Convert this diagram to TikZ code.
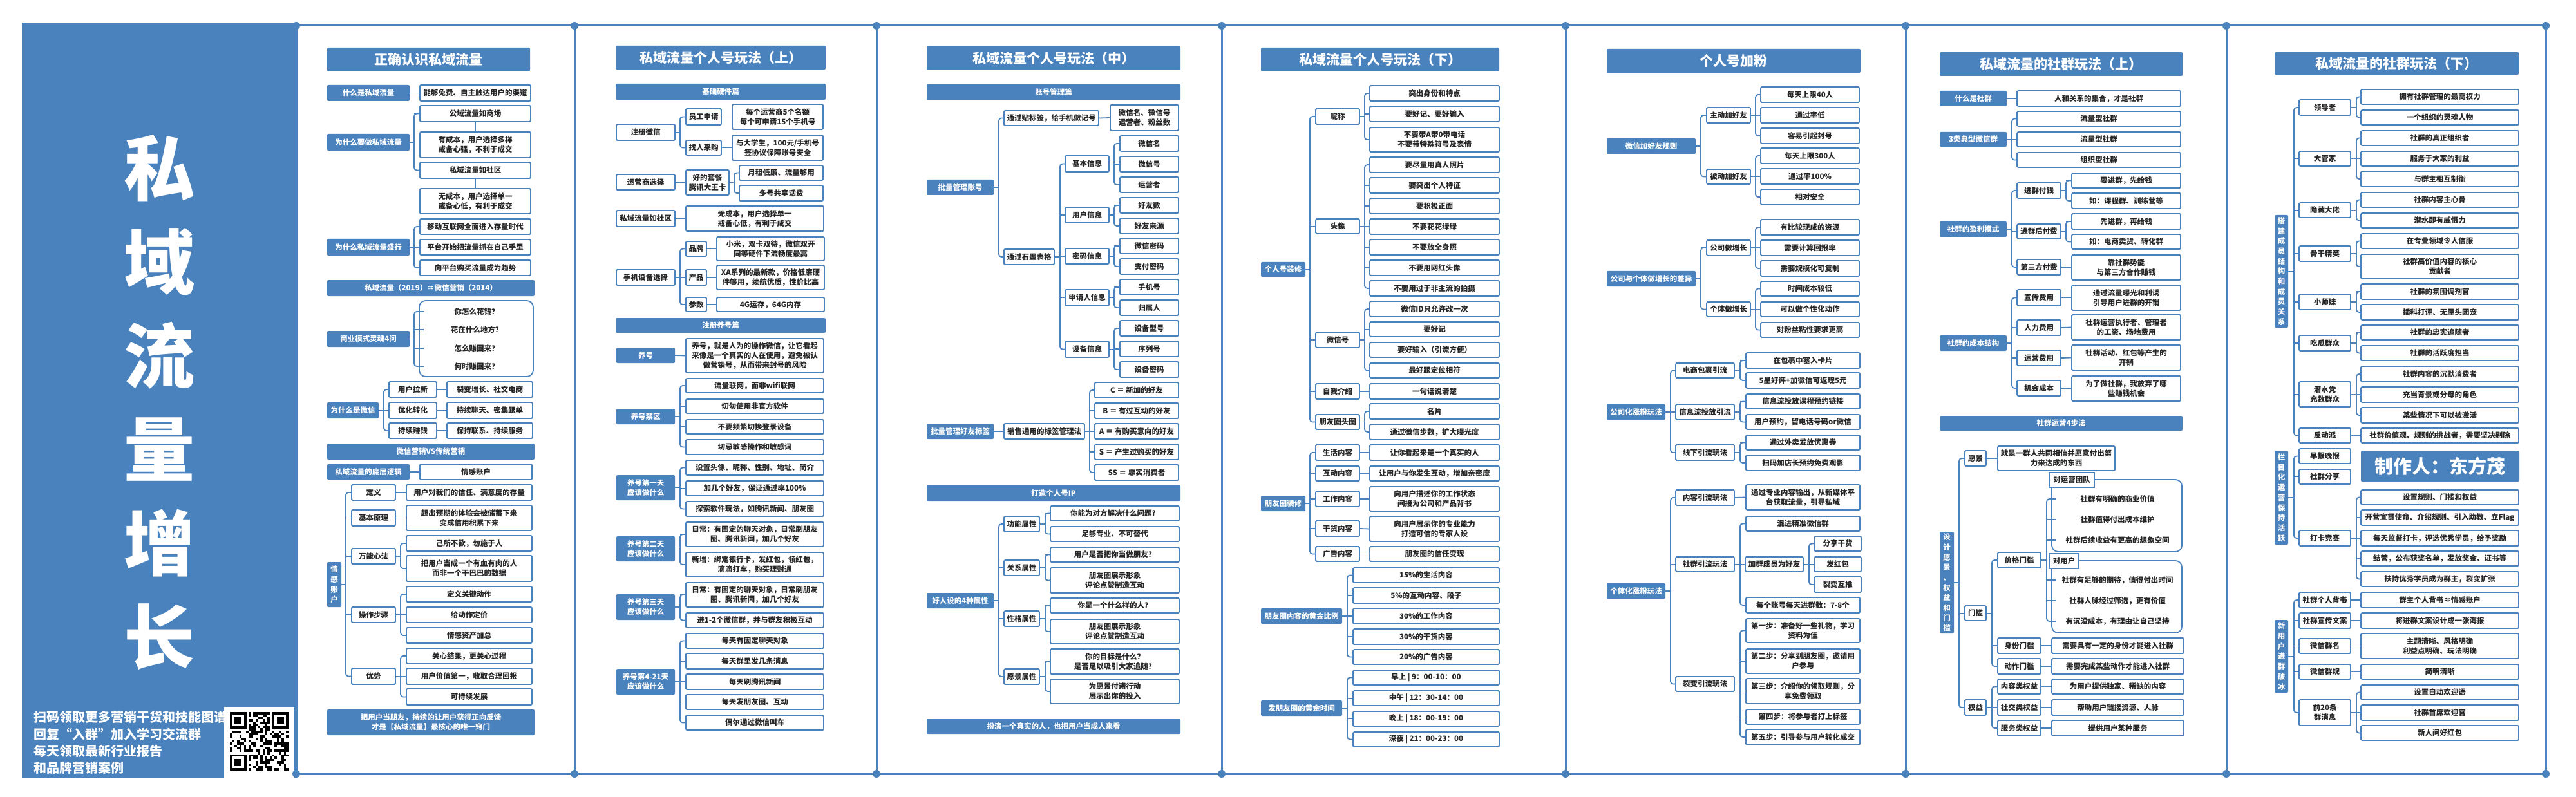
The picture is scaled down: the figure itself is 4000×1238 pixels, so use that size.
\documentclass[tikz,border=0pt]{standalone}
\usepackage{fontspec}
\setmainfont{Noto Sans CJK SC}
\usetikzlibrary{calc}
\definecolor{bl}{HTML}{4A82BD}
\definecolor{tx}{HTML}{262626}
\newcommand\bt{\fontsize{11.5}{15}\selectfont\bfseries}
\tikzset{
 bx/.style={draw=bl,line width=1.8pt,fill=white,text=tx,font=\bt,align=center,inner sep=0pt,rounded corners=1.5pt},
 fb/.style={fill=bl,text=white,font=\bt,align=center,inner sep=0pt,rounded corners=2pt},
 vb/.style={fill=bl,text=white,font=\fontsize{11.5}{15.7}\selectfont\bfseries,align=center,inner sep=0pt,rounded corners=2pt},
 sb/.style={fb},
 tt/.style={fill=bl,text=white,font=\fontsize{21}{25}\selectfont\bfseries,inner sep=0pt,rounded corners=2pt},
 tn/.style={text=tx,font=\bt,inner sep=0pt,align=center},
 conn/.style={draw=bl,line width=1.8pt,rounded corners=4pt},
 frame/.style={draw=bl,line width=3pt},
}
\newcommand\B[7]{\node[#1,minimum width={#4-#3},minimum height={#6-#5}] (#2) at ({(#3+#4)/2},{(#5+#6)/2}) {#7};}
\newcommand\LN[2]{\draw[conn] (#1.east) -- (#2.west);}
\newcommand\BR[5]{\coordinate (bk) at (#2,0);
 \draw[conn] (#1.east) -- (bk |- #1.east);
 \draw[conn] (#3.west) -| (bk |- #4.west) -- (#4.west);
 \foreach \cc in {#5}{\draw[conn] (bk |- \cc.west) -- (\cc.west);}}
\begin{document}
\begin{tikzpicture}[x=1pt,y=-1pt]
\useasboundingbox (0,0) rectangle (4000,1238);
\fill[white] (0,0) rectangle (4000,1238);
% ---------- left panel ----------
\fill[bl] (34,35) rectangle (460,1208);
\foreach \ch [count=\i from 0] in {私,域,流,量,增,长}
  \node[font=\fontsize{110}{110}\selectfont\bfseries,text=white,inner sep=0pt] (big\i) at (247,{261+145.6*\i}) {\ch};
\node[anchor=west,font=\fontsize{20}{24}\selectfont\bfseries,text=white,inner sep=0pt] (ad1) at (52,1114) {扫码领取更多营销干货和技能图谱};
\node[anchor=west,font=\fontsize{20}{24}\selectfont\bfseries,text=white,inner sep=0pt] (ad2) at (52,1141) {回复“入群”加入学习交流群};
\node[anchor=west,font=\fontsize{20}{24}\selectfont\bfseries,text=white,inner sep=0pt] (ad3) at (52,1167) {每天领取最新行业报告};
\node[anchor=west,font=\fontsize{20}{24}\selectfont\bfseries,text=white,inner sep=0pt] (ad4) at (52,1193) {和品牌营销案例};
% QR
\fill[white] (348,1098) rectangle (457,1208);
\pgfmathsetseed{11}
\foreach \i in {0,...,24}{\foreach \j in {0,...,24}{%
  \pgfmathtruncatemacro\rr{rnd>0.5?1:0}%
  \pgfmathtruncatemacro\sk{((\i<8)&&(\j<8))||((\i>16)&&(\j<8))||((\i<8)&&(\j>16))?1:0}%
  \ifnum\rr=1 \ifnum\sk=0 \fill[black] ({357+\i*3.64},{1106+\j*3.64}) rectangle ++(3.64,3.64);\fi\fi}}
\foreach \ox/\oy in {357/1106,422.5/1106,357/1171.5}{
  \fill[black] (\ox,\oy) rectangle ++(25.5,25.5);
  \fill[white] ({\ox+3.64},{\oy+3.64}) rectangle ++(18.2,18.2);
  \fill[black] ({\ox+7.28},{\oy+7.28}) rectangle ++(10.9,10.9);}
% ---------- frame ----------
\draw[frame] (460,40) -- (3953,40);
\draw[frame] (460,1202) -- (3953,1202);
\foreach \x in {460,892,1361,1897,2431,2959,3457,3953}{
  \draw[frame] (\x,40) -- (\x,1202);
  \fill[bl] (\x,40) circle (6pt);
  \fill[bl] (\x,1202) circle (6pt);}
% ================= column 1 =================
\B{tt}{t1}{508}{823}{74}{111}{正确认识私域流量}
\B{fb}{a1}{508}{636}{132}{157}{什么是私域流量}
\B{bx}{a1r}{652}{824}{132}{157}{能够免费、自主触达用户的渠道}
\LN{a1}{a1r}
\B{fb}{a2}{508}{636}{208}{234}{为什么要做私域流量}
\B{bx}{a2r1}{652}{824}{164}{189}{公域流量如商场}
\B{bx}{a2r2}{652}{824}{205}{245}{有成本，用户选择多样\\戒备心强，不利于成交}
\B{bx}{a2r3}{652}{824}{252}{277}{私域流量如社区}
\B{bx}{a2r4}{652}{824}{293}{332}{无成本，用户选择单一\\戒备心低，有利于成交}
\BR{a2}{643}{a2r1}{a2r3}{a2r1}
\draw[conn] (a2r1.south) -- (a2r2.north);
\draw[conn] (a2r3.south) -- (a2r4.north);
\B{fb}{a3}{508}{636}{371}{397}{为什么私域流量盛行}
\B{bx}{a3r1}{652}{824}{340}{364}{移动互联网全面进入存量时代}
\B{bx}{a3r2}{652}{824}{372}{396}{平台开始把流量抓在自己手里}
\B{bx}{a3r3}{652}{824}{404}{428}{向平台购买流量成为趋势}
\BR{a3}{643}{a3r1}{a3r3}{a3r2}
\B{sb}{a4}{508}{830}{435}{460}{私域流量（2019）≈微信营销（2014）}
\B{fb}{a5}{508}{636}{514}{539}{商业模式灵魂4问}
\B{bx,rounded corners=10pt}{a5box}{651}{828}{467}{585}{}
\B{tn}{a5q1}{658}{822}{474}{494}{你怎么花钱？}
\B{tn}{a5q2}{658}{822}{502}{522}{花在什么地方？}
\B{tn}{a5q3}{658}{822}{531}{551}{怎么赚回来？}
\B{tn}{a5q4}{658}{822}{559}{579}{何时赚回来？}
\BR{a5}{643}{a5q1}{a5q4}{a5q2,a5q3}
\B{fb}{a6}{508}{588}{625}{650}{为什么是微信}
\B{bx}{a6m1}{604}{678}{593}{617}{用户拉新}
\B{bx}{a6m2}{604}{678}{625}{650}{优化转化}
\B{bx}{a6m3}{604}{678}{657}{681}{持续赚钱}
\B{bx}{a6r1}{694}{827}{593}{617}{裂变增长、社交电商}
\B{bx}{a6r2}{694}{827}{625}{650}{持续聊天、密集跟单}
\B{bx}{a6r3}{694}{827}{657}{681}{保持联系、持续服务}
\BR{a6}{596}{a6m1}{a6m3}{a6m2}
\LN{a6m1}{a6r1}\LN{a6m2}{a6r2}\LN{a6m3}{a6r3}
\B{sb}{a7}{508}{830}{689}{714}{微信营销VS传统营销}
\B{fb}{a8}{508}{636}{721}{745}{私域流量的底层逻辑}
\B{bx}{a8r}{652}{826}{721}{745}{情感账户}
\LN{a8}{a8r}
\B{vb}{a9}{508}{530}{873}{943}{情\\感\\账\\户}
\B{bx}{a9m1}{546}{614}{753}{777}{定义}
\B{bx}{a9m2}{546}{614}{792}{817}{基本原理}
\B{bx}{a9m3}{546}{614}{852}{876}{万能心法}
\B{bx}{a9m4}{546}{614}{943}{967}{操作步骤}
\B{bx}{a9m5}{546}{614}{1038}{1063}{优势}
\B{bx}{a9r1}{631}{826}{753}{777}{用户对我们的信任、满意度的存量}
\B{bx}{a9r2}{631}{826}{785}{824}{超出预期的体验会被储蓄下来\\变成信用积累下来}
\B{bx}{a9r3}{631}{826}{832}{856}{己所不欲，勿施于人}
\B{bx}{a9r4}{631}{826}{863}{903}{把用户当成一个有血有肉的人\\而非一个干巴巴的数据}
\B{bx}{a9r5}{631}{826}{911}{935}{定义关键动作}
\B{bx}{a9r6}{631}{826}{943}{967}{给动作定价}
\B{bx}{a9r7}{631}{826}{975}{999}{情感资产加总}
\B{bx}{a9r8}{631}{826}{1007}{1031}{关心结果，更关心过程}
\B{bx}{a9r9}{631}{826}{1038}{1063}{用户价值第一，收取合理回报}
\B{bx}{a9r10}{631}{826}{1070}{1095}{可持续发展}
\BR{a9}{537}{a9m1}{a9m5}{a9m2,a9m3,a9m4}
\LN{a9m1}{a9r1}\LN{a9m2}{a9r2}
\BR{a9m3}{622}{a9r3}{a9r4}{a9r3}
\BR{a9m4}{622}{a9r5}{a9r7}{a9r6}
\BR{a9m5}{622}{a9r8}{a9r10}{a9r9}
\B{sb}{a10}{508}{830}{1102}{1142}{把用户当朋友，持续的让用户获得正向反馈\\才是【私域流量】最核心的唯一窍门}
% ================= column 2 =================
\B{tt}{t2}{956}{1282}{71}{108}{私域流量个人号玩法（上）}
\B{sb}{b0}{956}{1282}{130}{155}{基础硬件篇}
\B{bx}{b1}{957}{1048}{193}{218}{注册微信}
\B{bx}{b1m1}{1065}{1120}{169}{194}{员工申请}
\B{bx}{b1m2}{1065}{1120}{218}{241}{找人采购}
\B{bx}{b1r1}{1137}{1278}{162}{201}{每个运营商5个名额\\每个可申请15个手机号}
\B{bx}{b1r2}{1137}{1278}{210}{249}{与大学生，100元/手机号\\签协议保障账号安全}
\BR{b1}{1056}{b1m1}{b1m2}{b1m1}
\LN{b1m1}{b1r1}\LN{b1m2}{b1r2}
\B{bx}{b2}{957}{1048}{271}{295}{运营商选择}
\B{bx}{b2m}{1065}{1132}{264}{303}{好的套餐\\腾讯大王卡}
\B{bx}{b2r1}{1148}{1278}{257}{280}{月租低廉、流量够用}
\B{bx}{b2r2}{1148}{1278}{288}{312}{多号共享话费}
\LN{b2}{b2m}
\BR{b2m}{1140}{b2r1}{b2r2}{b2r1}
\B{bx}{b3}{957}{1048}{327}{352}{私域流量如社区}
\B{bx}{b3r}{1065}{1279}{320}{359}{无成本，用户选择单一\\戒备心低，有利于成交}
\LN{b3}{b3r}
\B{bx}{b4}{957}{1048}{419}{443}{手机设备选择}
\B{bx}{b4m1}{1065}{1097}{375}{398}{品牌}
\B{bx}{b4m2}{1065}{1097}{419}{443}{产品}
\B{bx}{b4m3}{1065}{1097}{462}{484}{参数}
\B{bx}{b4r1}{1113}{1280}{368}{405}{小米，双卡双待，微信双开\\同等硬件下流畅度最高}
\B{bx}{b4r2}{1113}{1280}{412}{450}{XA系列的最新款，价格低廉硬\\件够用，续航优质，性价比高}
\B{bx}{b4r3}{1113}{1280}{462}{484}{4G运存，64G内存}
\BR{b4}{1056}{b4m1}{b4m3}{b4m2}
\LN{b4m1}{b4r1}\LN{b4m2}{b4r2}\LN{b4m3}{b4r3}
\B{sb}{b5}{956}{1282}{494}{517}{注册养号篇}
\B{fb}{b6}{957}{1048}{540}{564}{养号}
\B{bx}{b6r}{1065}{1279}{526}{579}{养号，就是人为的操作微信，让它看起\\来像是一个真实的人在使用，避免被认\\做营销号，从而带来封号的风险}
\LN{b6}{b6r}
\B{fb}{b7}{957}{1048}{635}{659}{养号禁区}
\B{bx}{b7r1}{1065}{1279}{588}{610}{流量联网，而非wifi联网}
\B{bx}{b7r2}{1065}{1279}{620}{642}{切勿使用非官方软件}
\B{bx}{b7r3}{1065}{1279}{652}{674}{不要频繁切换登录设备}
\B{bx}{b7r4}{1065}{1279}{683}{706}{切忌敏感操作和敏感词}
\BR{b7}{1056}{b7r1}{b7r4}{b7r2,b7r3}
\B{fb}{b8}{957}{1048}{738}{777}{养号第一天\\应该做什么}
\B{bx}{b8r1}{1065}{1279}{715}{738}{设置头像、昵称、性别、地址、简介}
\B{bx}{b8r2}{1065}{1279}{747}{770}{加几个好友，保证通过率100\%}
\B{bx}{b8r3}{1065}{1279}{779}{802}{探索软件玩法，如腾讯新闻、朋友圈}
\BR{b8}{1056}{b8r1}{b8r3}{b8r2}
\B{fb}{b9}{957}{1048}{833}{872}{养号第二天\\应该做什么}
\B{bx}{b9r1}{1065}{1279}{811}{849}{日常：有固定的聊天对象，日常刷朋友\\圈、腾讯新闻，加几个好友}
\B{bx}{b9r2}{1065}{1279}{858}{896}{新增：绑定银行卡，发红包，领红包，\\滴滴打车，购买理财通}
\BR{b9}{1056}{b9r1}{b9r2}{b9r1}
\B{fb}{b10}{957}{1048}{923}{963}{养号第三天\\应该做什么}
\B{bx}{b10r1}{1065}{1279}{905}{943}{日常：有固定的聊天对象，日常刷朋友\\圈、腾讯新闻，加几个好友}
\B{bx}{b10r2}{1065}{1279}{952}{975}{进1-2个微信群，并与群友积极互动}
\BR{b10}{1056}{b10r1}{b10r2}{b10r1}
\B{fb}{b11}{957}{1048}{1039}{1079}{养号第4-21天\\应该做什么}
\B{bx}{b11r1}{1065}{1279}{984}{1007}{每天有固定聊天对象}
\B{bx}{b11r2}{1065}{1279}{1015}{1039}{每天群里发几条消息}
\B{bx}{b11r3}{1065}{1279}{1047}{1071}{每天刷腾讯新闻}
\B{bx}{b11r4}{1065}{1279}{1079}{1102}{每天发朋友圈、互动}
\B{bx}{b11r5}{1065}{1279}{1111}{1134}{偶尔通过微信叫车}
\BR{b11}{1056}{b11r1}{b11r5}{b11r2,b11r3,b11r4}
% ================= column 3 =================
\B{tt}{t3}{1439}{1833}{72}{109}{私域流量个人号玩法（中）}
\B{sb}{c0}{1439}{1833}{131}{156}{账号管理篇}
\B{fb}{c1}{1439}{1543}{279}{303}{批量管理账号}
\B{bx}{c1a}{1559}{1706}{172}{195}{通过贴标签，给手机做记号}
\B{bx}{c1b}{1559}{1637}{387}{411}{通过石墨表格}
\BR{c1}{1551}{c1a}{c1b}{c1a}
\B{bx}{c1ar}{1724}{1830}{163}{203}{微信名、微信号\\运营者、粉丝数}
\LN{c1a}{c1ar}
\B{bx}{c1b1}{1654}{1722}{242}{267}{基本信息}
\B{bx}{c1b2}{1654}{1722}{322}{346}{用户信息}
\B{bx}{c1b3}{1654}{1722}{386}{410}{密码信息}
\B{bx}{c1b4}{1654}{1722}{450}{475}{申请人信息}
\B{bx}{c1b5}{1654}{1722}{530}{555}{设备信息}
\BR{c1b}{1646}{c1b1}{c1b5}{c1b2,c1b3,c1b4}
\B{bx}{l1}{1739}{1830}{211}{235}{微信名}
\B{bx}{l2}{1739}{1830}{243}{267}{微信号}
\B{bx}{l3}{1739}{1830}{275}{299}{运营者}
\B{bx}{l4}{1739}{1830}{307}{331}{好友数}
\B{bx}{l5}{1739}{1830}{339}{363}{好友来源}
\B{bx}{l6}{1739}{1830}{370}{394}{微信密码}
\B{bx}{l7}{1739}{1830}{402}{426}{支付密码}
\B{bx}{l8}{1739}{1830}{434}{458}{手机号}
\B{bx}{l9}{1739}{1830}{466}{490}{归属人}
\B{bx}{l10}{1739}{1830}{498}{522}{设备型号}
\B{bx}{l11}{1739}{1830}{530}{554}{序列号}
\B{bx}{l12}{1739}{1830}{562}{586}{设备密码}
\BR{c1b1}{1730}{l1}{l3}{l2}
\BR{c1b2}{1730}{l4}{l5}{l4}
\BR{c1b3}{1730}{l6}{l7}{l6}
\BR{c1b4}{1730}{l8}{l9}{l8}
\BR{c1b5}{1730}{l10}{l12}{l11}
\B{fb}{c2}{1439}{1543}{658}{682}{批量管理好友标签}
\B{bx}{c2m}{1559}{1684}{658}{682}{销售通用的标签管理法}
\B{bx}{c2r1}{1700}{1830}{594}{618}{C ＝ 新加的好友}
\B{bx}{c2r2}{1700}{1830}{626}{650}{B ＝ 有过互动的好友}
\B{bx}{c2r3}{1700}{1830}{658}{682}{A ＝ 有购买意向的好友}
\B{bx}{c2r4}{1700}{1830}{690}{714}{S ＝ 产生过购买的好友}
\B{bx}{c2r5}{1700}{1830}{722}{746}{SS ＝ 忠实消费者}
\LN{c2}{c2m}
\BR{c2m}{1692}{c2r1}{c2r5}{c2r2,c2r3,c2r4}
\B{sb}{c3}{1439}{1833}{754}{778}{打造个人号IP}
\B{fb}{c4}{1439}{1543}{921}{945}{好人设的4种属性}
\B{bx}{c4m1}{1559}{1614}{802}{826}{功能属性}
\B{bx}{c4m2}{1559}{1614}{870}{894}{关系属性}
\B{bx}{c4m3}{1559}{1614}{949}{973}{性格属性}
\B{bx}{c4m4}{1559}{1614}{1039}{1063}{愿景属性}
\BR{c4}{1551}{c4m1}{c4m4}{c4m2,c4m3}
\B{bx}{c4r1}{1631}{1831}{786}{809}{你能为对方解决什么问题？}
\B{bx}{c4r2}{1631}{1831}{818}{841}{足够专业、不可替代}
\B{bx}{c4r3}{1631}{1831}{850}{873}{用户是否把你当做朋友？}
\B{bx}{c4r4}{1631}{1831}{882}{921}{朋友圈展示形象\\评论点赞制造互动}
\B{bx}{c4r5}{1631}{1831}{929}{952}{你是一个什么样的人？}
\B{bx}{c4r6}{1631}{1831}{962}{1000}{朋友圈展示形象\\评论点赞制造互动}
\B{bx}{c4r7}{1631}{1831}{1008}{1047}{你的目标是什么？\\是否足以吸引大家追随？}
\B{bx}{c4r8}{1631}{1831}{1055}{1093}{为愿景付诸行动\\展示出你的投入}
\BR{c4m1}{1623}{c4r1}{c4r2}{c4r1}
\BR{c4m2}{1623}{c4r3}{c4r4}{c4r3}
\BR{c4m3}{1623}{c4r5}{c4r6}{c4r5}
\BR{c4m4}{1623}{c4r7}{c4r8}{c4r7}
\B{sb}{c5}{1439}{1833}{1117}{1140}{扮演一个真实的人，也把用户当成人来看}
% ================= column 4 =================
\B{tt}{t4}{1958}{2328}{74}{111}{私域流量个人号玩法（下）}
\B{fb}{d1}{1958}{2027}{407}{430}{个人号装修}
\B{bx}{d1m1}{2043}{2111}{169}{193}{昵称}
\B{bx}{d1m2}{2043}{2111}{340}{363}{头像}
\B{bx}{d1m3}{2043}{2111}{516}{540}{微信号}
\B{bx}{d1m4}{2043}{2111}{596}{620}{自我介绍}
\B{bx}{d1m5}{2043}{2111}{644}{667}{朋友圈头图}
\BR{d1}{2034}{d1m1}{d1m5}{d1m2,d1m3,d1m4}
\B{bx}{d1r1}{2127}{2328}{133}{157}{突出身份和特点}
\B{bx}{d1r2}{2127}{2328}{165}{189}{要好记、要好输入}
\B{bx}{d1r3}{2127}{2328}{198}{236}{不要带A带0带电话\\不要带特殊符号及表情}
\B{bx}{d1r4}{2127}{2328}{244}{268}{要尽量用真人照片}
\B{bx}{d1r5}{2127}{2328}{276}{300}{要突出个人特征}
\B{bx}{d1r6}{2127}{2328}{308}{332}{要积极正面}
\B{bx}{d1r7}{2127}{2328}{340}{364}{不要花花绿绿}
\B{bx}{d1r8}{2127}{2328}{372}{396}{不要放全身照}
\B{bx}{d1r9}{2127}{2328}{404}{428}{不要用网红头像}
\B{bx}{d1r10}{2127}{2328}{436}{460}{不要用过于非主流的拍摄}
\B{bx}{d1r11}{2127}{2328}{468}{492}{微信ID只允许改一次}
\B{bx}{d1r12}{2127}{2328}{500}{523}{要好记}
\B{bx}{d1r13}{2127}{2328}{532}{555}{要好输入（引流方便）}
\B{bx}{d1r14}{2127}{2328}{564}{587}{最好跟定位相符}
\B{bx}{d1r15}{2127}{2328}{596}{620}{一句话说清楚}
\B{bx}{d1r16}{2127}{2328}{627}{651}{名片}
\B{bx}{d1r17}{2127}{2328}{659}{683}{通过微信步数，扩大曝光度}
\BR{d1m1}{2119}{d1r1}{d1r3}{d1r2}
\BR{d1m2}{2119}{d1r4}{d1r10}{d1r5,d1r6,d1r7,d1r8,d1r9}
\BR{d1m3}{2119}{d1r11}{d1r14}{d1r12,d1r13}
\LN{d1m4}{d1r15}
\BR{d1m5}{2119}{d1r16}{d1r17}{d1r16}
\B{fb}{d2}{1958}{2027}{770}{794}{朋友圈装修}
\B{bx}{d2m1}{2043}{2111}{691}{715}{生活内容}
\B{bx}{d2m2}{2043}{2111}{724}{747}{互动内容}
\B{bx}{d2m3}{2043}{2111}{763}{787}{工作内容}
\B{bx}{d2m4}{2043}{2111}{809}{833}{干货内容}
\B{bx}{d2m5}{2043}{2111}{849}{872}{广告内容}
\BR{d2}{2034}{d2m1}{d2m5}{d2m2,d2m3,d2m4}
\B{bx}{d2r1}{2127}{2328}{691}{715}{让你看起来是一个真实的人}
\B{bx}{d2r2}{2127}{2328}{724}{747}{让用户与你发生互动，增加亲密度}
\B{bx}{d2r3}{2127}{2328}{756}{794}{向用户描述你的工作状态\\间接为公司和产品背书}
\B{bx}{d2r4}{2127}{2328}{802}{841}{向用户展示你的专业能力\\打造可信的专家人设}
\B{bx}{d2r5}{2127}{2328}{849}{872}{朋友圈的信任变现}
\LN{d2m1}{d2r1}\LN{d2m2}{d2r2}\LN{d2m3}{d2r3}\LN{d2m4}{d2r4}\LN{d2m5}{d2r5}
\B{fb}{d3}{1958}{2084}{945}{969}{朋友圈内容的黄金比例}
\B{bx}{d3r1}{2101}{2328}{882}{905}{15\%的生活内容}
\B{bx}{d3r2}{2101}{2328}{913}{937}{5\%的互动内容、段子}
\B{bx}{d3r3}{2101}{2328}{945}{969}{30\%的工作内容}
\B{bx}{d3r4}{2101}{2328}{977}{1001}{30\%的干货内容}
\B{bx}{d3r5}{2101}{2328}{1009}{1032}{20\%的广告内容}
\BR{d3}{2092}{d3r1}{d3r5}{d3r2,d3r3,d3r4}
\B{fb}{d4}{1958}{2084}{1088}{1112}{发朋友圈的黄金时间}
\B{bx}{d4r1}{2101}{2328}{1041}{1064}{早上 | 9：00-10：00}
\B{bx}{d4r2}{2101}{2328}{1073}{1096}{中午 | 12：30-14：00}
\B{bx}{d4r3}{2101}{2328}{1105}{1128}{晚上 | 18：00-19：00}
\B{bx}{d4r4}{2101}{2328}{1137}{1160}{深夜 | 21：00-23：00}
\BR{d4}{2092}{d4r1}{d4r4}{d4r2,d4r3}
% ================= column 5 =================
\B{tt}{t5}{2495}{2889}{76}{113}{个人号加粉}
\B{fb}{e1}{2495}{2633}{215}{239}{微信加好友规则}
\B{bx}{e1m1}{2650}{2718}{167}{191}{主动加好友}
\B{bx}{e1m2}{2650}{2718}{263}{286}{被动加好友}
\BR{e1}{2641}{e1m1}{e1m2}{e1m1}
\B{bx}{e1r1}{2734}{2887}{135}{159}{每天上限40人}
\B{bx}{e1r2}{2734}{2887}{167}{191}{通过率低}
\B{bx}{e1r3}{2734}{2887}{199}{223}{容易引起封号}
\B{bx}{e1r4}{2734}{2887}{230}{254}{每天上限300人}
\B{bx}{e1r5}{2734}{2887}{262}{286}{通过率100\%}
\B{bx}{e1r6}{2734}{2887}{294}{318}{相对安全}
\BR{e1m1}{2726}{e1r1}{e1r3}{e1r2}
\BR{e1m2}{2726}{e1r4}{e1r6}{e1r5}
\B{fb}{e2}{2495}{2633}{421}{445}{公司与个体做增长的差异}
\B{bx}{e2m1}{2650}{2718}{373}{397}{公司做增长}
\B{bx}{e2m2}{2650}{2718}{469}{492}{个体做增长}
\BR{e2}{2641}{e2m1}{e2m2}{e2m1}
\B{bx}{e2r1}{2734}{2887}{341}{365}{有比较现成的资源}
\B{bx}{e2r2}{2734}{2887}{373}{397}{需要计算回报率}
\B{bx}{e2r3}{2734}{2887}{405}{429}{需要规模化可复制}
\B{bx}{e2r4}{2734}{2887}{437}{460}{时间成本较低}
\B{bx}{e2r5}{2734}{2887}{469}{492}{可以做个性化动作}
\B{bx}{e2r6}{2734}{2887}{501}{524}{对粉丝粘性要求更高}
\BR{e2m1}{2726}{e2r1}{e2r3}{e2r2}
\BR{e2m2}{2726}{e2r4}{e2r6}{e2r5}
\B{fb}{e3}{2495}{2586}{628}{652}{公司化涨粉玩法}
\B{bx}{e3m1}{2602}{2693}{564}{587}{电商包裹引流}
\B{bx}{e3m2}{2602}{2693}{628}{652}{信息流投放引流}
\B{bx}{e3m3}{2602}{2693}{691}{715}{线下引流玩法}
\BR{e3}{2594}{e3m1}{e3m3}{e3m2}
\B{bx}{e3r1}{2711}{2888}{548}{572}{在包裹中塞入卡片}
\B{bx}{e3r2}{2711}{2888}{579}{603}{5星好评+加微信可返现5元}
\B{bx}{e3r3}{2711}{2888}{612}{635}{信息流投放课程预约链接}
\B{bx}{e3r4}{2711}{2888}{644}{667}{用户预约，留电话号码or微信}
\B{bx}{e3r5}{2711}{2888}{676}{699}{通过外卖发放优惠券}
\B{bx}{e3r6}{2711}{2888}{707}{731}{扫码加店长预约免费观影}
\BR{e3m1}{2702}{e3r1}{e3r2}{e3r1}
\BR{e3m2}{2702}{e3r3}{e3r4}{e3r3}
\BR{e3m3}{2702}{e3r5}{e3r6}{e3r5}
\B{fb}{e4}{2495}{2586}{906}{930}{个体化涨粉玩法}
\B{bx}{e4m1}{2602}{2693}{761}{785}{内容引流玩法}
\B{bx}{e4m2}{2602}{2693}{865}{888}{社群引流玩法}
\B{bx}{e4m3}{2602}{2693}{1051}{1074}{裂变引流玩法}
\BR{e4}{2594}{e4m1}{e4m3}{e4m2}
\B{bx}{e4r1}{2711}{2888}{753}{792}{通过专业内容输出，从新媒体平\\台获取流量，引导私域}
\LN{e4m1}{e4r1}
\B{bx}{e4s1}{2711}{2888}{802}{825}{混进精准微信群}
\B{bx}{e4s2}{2710}{2800}{865}{888}{加群成员为好友}
\B{bx}{e4s3}{2711}{2888}{928}{952}{每个账号每天进群数：7-8个}
\BR{e4m2}{2702}{e4s1}{e4s3}{e4s2}
\B{bx}{e4t1}{2817}{2890}{833}{856}{分享干货}
\B{bx}{e4t2}{2817}{2890}{865}{888}{发红包}
\B{bx}{e4t3}{2817}{2890}{896}{920}{裂变互推}
\BR{e4s2}{2809}{e4t1}{e4t3}{e4t2}
\B{bx}{e4u1}{2711}{2888}{961}{998}{第一步：准备好一些礼物，学习\\资料为佳}
\B{bx}{e4u2}{2711}{2888}{1008}{1046}{第二步：分享到朋友圈，邀请用\\户参与}
\B{bx}{e4u3}{2711}{2888}{1054}{1093}{第三步：介绍你的领取规则，分\\享免费领取}
\B{bx}{e4u4}{2711}{2888}{1102}{1125}{第四步：将参与者打上标签}
\B{bx}{e4u5}{2711}{2888}{1133}{1157}{第五步：引导参与用户转化成交}
\BR{e4m3}{2702}{e4u1}{e4u5}{e4u2,e4u3,e4u4}
% ================= column 6 =================
\B{tt}{t6}{3012}{3389}{81}{118}{私域流量的社群玩法（上）}
\B{fb}{f1}{3012}{3116}{141}{165}{什么是社群}
\B{bx}{f1r}{3132}{3386}{141}{165}{人和关系的集合，才是社群}
\LN{f1}{f1r}
\B{fb}{f2}{3012}{3116}{205}{228}{3类典型微信群}
\B{bx}{f2r1}{3132}{3386}{173}{196}{流量型社群}
\B{bx}{f2r2}{3132}{3386}{205}{228}{流量型社群}
\B{bx}{f2r3}{3132}{3386}{237}{260}{组织型社群}
\BR{f2}{3124}{f2r1}{f2r3}{f2r2}
\B{fb}{f3}{3012}{3116}{344}{368}{社群的盈利模式}
\B{bx}{f3m1}{3132}{3200}{284}{308}{进群付钱}
\B{bx}{f3m2}{3132}{3200}{348}{371}{进群后付费}
\B{bx}{f3m3}{3132}{3200}{403}{427}{第三方付费}
\BR{f3}{3124}{f3m1}{f3m3}{f3m2}
\B{bx}{f3r1}{3217}{3386}{269}{292}{要进群，先给钱}
\B{bx}{f3r2}{3217}{3386}{300}{324}{如：课程群、训练营等}
\B{bx}{f3r3}{3217}{3386}{332}{356}{先进群，再给钱}
\B{bx}{f3r4}{3217}{3386}{364}{387}{如：电商卖货、转化群}
\B{bx}{f3r5}{3217}{3386}{396}{435}{靠社群势能\\与第三方合作赚钱}
\BR{f3m1}{3208}{f3r1}{f3r2}{f3r1}
\BR{f3m2}{3208}{f3r3}{f3r4}{f3r3}
\LN{f3m3}{f3r5}
\B{fb}{f4}{3012}{3116}{521}{545}{社群的成本结构}
\B{bx}{f4m1}{3132}{3200}{450}{475}{宣传费用}
\B{bx}{f4m2}{3132}{3200}{497}{521}{人力费用}
\B{bx}{f4m3}{3132}{3200}{544}{568}{运营费用}
\B{bx}{f4m4}{3132}{3200}{591}{615}{机会成本}
\BR{f4}{3124}{f4m1}{f4m4}{f4m2,f4m3}
\B{bx}{f4r1}{3217}{3386}{443}{482}{通过流量曝光和利诱\\引导用户进群的开销}
\B{bx}{f4r2}{3217}{3386}{489}{528}{社群运营执行者、管理者\\的工资、场地费用}
\B{bx}{f4r3}{3217}{3386}{536}{575}{社群活动、红包等产生的\\开销}
\B{bx}{f4r4}{3217}{3386}{584}{623}{为了做社群，我放弃了哪\\些赚钱机会}
\LN{f4m1}{f4r1}\LN{f4m2}{f4r2}\LN{f4m3}{f4r3}\LN{f4m4}{f4r4}
\B{sb}{f5}{3012}{3389}{646}{669}{社群运营4步法}
\B{vb}{f6}{3012}{3034}{826}{984}{设\\计\\愿\\景\\、\\权\\益\\和\\门\\槛}
\B{bx}{f6m1}{3051}{3084}{700}{724}{愿景}
\B{bx}{f6m2}{3051}{3084}{941}{964}{门槛}
\B{bx}{f6m3}{3051}{3084}{1087}{1111}{权益}
\BR{f6}{3042}{f6m1}{f6m3}{f6m2}
\B{bx}{f6r1}{3102}{3284}{693}{731}{就是一群人共同相信并愿意付出努\\力来达成的东西}
\LN{f6m1}{f6r1}
\B{bx}{g1}{3102}{3169}{858}{882}{价格门槛}
\B{bx}{g2}{3102}{3169}{991}{1015}{身份门槛}
\B{bx}{g3}{3102}{3169}{1023}{1047}{动作门槛}
\BR{f6m2}{3093}{g1}{g3}{g2}
\B{bx}{g2r}{3186}{3391}{991}{1015}{需要具有一定的身份才能进入社群}
\B{bx}{g3r}{3186}{3391}{1023}{1047}{需要完成某些动作才能进入社群}
\LN{g2}{g2r}\LN{g3}{g3r}
\B{bx,rounded corners=10pt}{grp1}{3186}{3388}{745}{857}{}
\B{bx,rounded corners=10pt}{grp2}{3186}{3388}{871}{983}{}
\B{bx,rounded corners=0pt}{tab1}{3182}{3252}{734}{757}{对运营团队}
\B{bx,rounded corners=0pt}{tab2}{3182}{3228}{860}{883}{对用户}
\B{tn}{h1}{3192}{3384}{765}{785}{社群有明确的商业价值}
\B{tn}{h2}{3192}{3384}{797}{817}{社群值得付出成本维护}
\B{tn}{h3}{3192}{3384}{829}{849}{社群后续收益有更高的想象空间}
\B{tn}{h4}{3192}{3384}{891}{911}{社群有足够的期待，值得付出时间}
\B{tn}{h5}{3192}{3384}{923}{943}{社群人脉经过筛选，更有价值}
\B{tn}{h6}{3192}{3384}{955}{975}{有沉没成本，有理由让自己坚持}
\BR{g1}{3178}{h1}{h6}{h2,h3,h4,h5}
\B{bx}{k1}{3102}{3169}{1055}{1078}{内容类权益}
\B{bx}{k2}{3102}{3169}{1087}{1111}{社交类权益}
\B{bx}{k3}{3102}{3169}{1119}{1143}{服务类权益}
\BR{f6m3}{3093}{k1}{k3}{k2}
\B{bx}{k1r}{3186}{3391}{1055}{1078}{为用户提供独家、稀缺的内容}
\B{bx}{k2r}{3186}{3391}{1087}{1111}{帮助用户链接资源、人脉}
\B{bx}{k3r}{3186}{3391}{1119}{1143}{提供用户某种服务}
\LN{k1}{k1r}\LN{k2}{k2r}\LN{k3}{k3r}
% ================= column 7 =================
\B{tt}{t7}{3532}{3911}{81}{116}{私域流量的社群玩法（下）}
\B{vb}{v1}{3532}{3553}{334}{509}{搭\\建\\成\\员\\结\\构\\和\\成\\员\\关\\系}
\B{bx}{p1}{3570}{3650}{155}{179}{领导者}
\B{bx}{p2}{3570}{3650}{235}{258}{大管家}
\B{bx}{p3}{3570}{3650}{315}{338}{隐藏大佬}
\B{bx}{p4}{3570}{3650}{382}{406}{骨干精英}
\B{bx}{p5}{3570}{3650}{457}{481}{小师妹}
\B{bx}{p6}{3570}{3650}{521}{545}{吃瓜群众}
\B{bx}{p7}{3570}{3650}{593}{632}{潜水党\\充数群众}
\B{bx}{p8}{3570}{3650}{665}{688}{反动派}
\BR{v1}{3562}{p1}{p8}{p2,p3,p4,p5,p6,p7}
\B{bx}{w1}{3666}{3911}{139}{162}{拥有社群管理的最高权力}
\B{bx}{w2}{3666}{3911}{171}{194}{一个组织的灵魂人物}
\B{bx}{w3}{3666}{3911}{203}{226}{社群的真正组织者}
\B{bx}{w4}{3666}{3911}{235}{258}{服务于大家的利益}
\B{bx}{w5}{3666}{3911}{266}{290}{与群主相互制衡}
\B{bx}{w6}{3666}{3911}{299}{322}{社群内容主心骨}
\B{bx}{w7}{3666}{3911}{331}{354}{潜水即有威慑力}
\B{bx}{w8}{3666}{3911}{363}{386}{在专业领域令人信服}
\B{bx}{w9}{3666}{3911}{395}{433}{社群高价值内容的核心\\贡献者}
\B{bx}{w10}{3666}{3911}{441}{465}{社群的氛围调剂官}
\B{bx}{w11}{3666}{3911}{473}{497}{插科打诨、无厘头团宠}
\B{bx}{w12}{3666}{3911}{505}{528}{社群的忠实追随者}
\B{bx}{w13}{3666}{3911}{537}{560}{社群的活跃度担当}
\B{bx}{w14}{3666}{3911}{569}{593}{社群内容的沉默消费者}
\B{bx}{w15}{3666}{3911}{601}{625}{充当背景或分母的角色}
\B{bx}{w16}{3666}{3911}{633}{657}{某些情况下可以被激活}
\B{bx}{w17}{3666}{3911}{665}{688}{社群价值观、规则的挑战者，需要坚决剔除}
\BR{p1}{3659}{w1}{w2}{w1}
\BR{p2}{3659}{w3}{w5}{w4}
\BR{p3}{3659}{w6}{w7}{w6}
\BR{p4}{3659}{w8}{w9}{w8}
\BR{p5}{3659}{w10}{w11}{w10}
\BR{p6}{3659}{w12}{w13}{w12}
\BR{p7}{3659}{w14}{w16}{w15}
\LN{p8}{w17}
\B{vb}{v2}{3532}{3553}{700}{846}{栏\\目\\化\\运\\营\\保\\持\\活\\跃}
\B{bx}{p9}{3570}{3650}{697}{720}{早报晚报}
\B{bx}{p10}{3570}{3650}{729}{752}{社群分享}
\B{bx}{p11}{3570}{3650}{824}{848}{打卡竞赛}
\BR{v2}{3562}{p9}{p11}{p10}
\node[fill=bl,text=white,font=\fontsize{29}{32}\selectfont\bfseries,inner sep=0pt,rounded corners=2pt,minimum width=246,minimum height=48] (maker) at (3789,724) {制作人：东方茂};
\B{bx}{w18}{3666}{3911}{761}{784}{设置规则、门槛和权益}
\B{bx}{w19}{3666}{3911}{792}{816}{开营宣贯使命、介绍规则、引入助教、立Flag}
\B{bx}{w20}{3666}{3911}{824}{848}{每天监督打卡，评选优秀学员，给予奖励}
\B{bx}{w21}{3666}{3911}{856}{879}{结营，公布获奖名单，发放奖金、证书等}
\B{bx}{w22}{3666}{3911}{888}{911}{扶持优秀学员成为群主，裂变扩张}
\BR{p11}{3659}{w18}{w22}{w19,w20,w21}
\B{vb}{v3}{3532}{3553}{963}{1076}{新\\用\\户\\进\\群\\破\\冰}
\B{bx}{p12}{3570}{3650}{920}{944}{社群个人背书}
\B{bx}{p13}{3570}{3650}{952}{976}{社群宣传文案}
\B{bx}{p14}{3570}{3650}{992}{1015}{微信群名}
\B{bx}{p15}{3570}{3650}{1032}{1055}{微信群规}
\B{bx}{p16}{3570}{3650}{1087}{1127}{前20条\\群消息}
\BR{v3}{3562}{p12}{p16}{p13,p14,p15}
\B{bx}{w23}{3666}{3911}{920}{944}{群主个人背书≈情感账户}
\B{bx}{w24}{3666}{3911}{952}{976}{将进群文案设计成一张海报}
\B{bx}{w25}{3666}{3911}{984}{1023}{主题清晰、风格明确\\利益点明确、玩法明确}
\B{bx}{w26}{3666}{3911}{1032}{1055}{简明清晰}
\B{bx}{w27}{3666}{3911}{1064}{1087}{设置自动欢迎语}
\B{bx}{w28}{3666}{3911}{1095}{1119}{社群首席欢迎官}
\B{bx}{w29}{3666}{3911}{1127}{1150}{新人问好红包}
\LN{p12}{w23}\LN{p13}{w24}\LN{p14}{w25}\LN{p15}{w26}
\BR{p16}{3659}{w27}{w29}{w28}
\end{tikzpicture}
\end{document}
